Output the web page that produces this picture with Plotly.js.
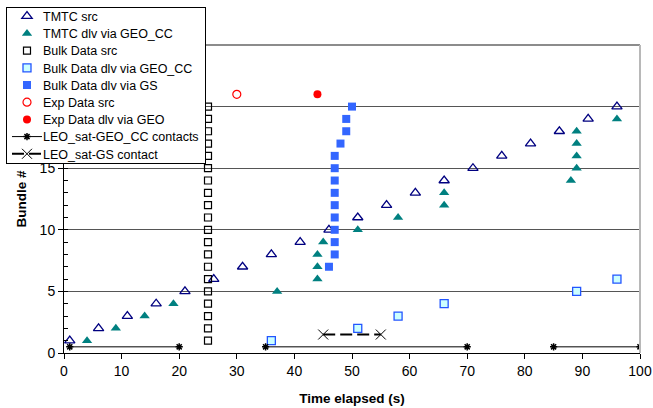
<!DOCTYPE html>
<html>
<head>
<meta charset="utf-8">
<script src="https://cdn.plot.ly/plotly-3.0.1.min.js"></script>
<style>html,body{margin:0;padding:0;background:#fff;}#chart{width:653px;height:408px;}</style>
</head>
<body>
<div id="chart"></div>
<script>
// ---- data ----
const tmtcSrcX = [1, 6, 11, 16, 21, 26, 31, 36, 41, 46, 51, 56, 61, 66, 71, 76, 81, 86, 91, 96];
const tmtcSrcY = [1, 2, 3, 4, 5, 6, 7, 8, 9, 10, 11, 12, 13, 14, 15, 16, 17, 18, 19, 20];

const tmtcDlvX = [4, 9, 14, 19, 37, 44, 44, 44, 45, 51, 58, 66, 66, 88, 89, 89, 89, 89, 96];
const tmtcDlvY = [1, 2, 3, 4, 5, 6, 7, 8, 9, 10, 11, 12, 13, 14, 15, 16, 17, 18, 19];

const bulkSrcX = [25, 25, 25, 25, 25, 25, 25, 25, 25, 25, 25, 25, 25, 25, 25, 25, 25, 25, 25, 25];
const bulkSrcY = [1, 2, 3, 4, 5, 6, 7, 8, 9, 10, 11, 12, 13, 14, 15, 16, 17, 18, 19, 20];

const bulkGeoX = [36, 51, 58, 66, 89, 96];
const bulkGeoY = [1, 2, 3, 4, 5, 6];

const bulkGsX = [46, 47, 47, 47, 47, 47, 47, 47, 47, 47, 48, 49, 49, 50];
const bulkGsY = [7, 8, 9, 10, 11, 12, 13, 14, 15, 16, 17, 18, 19, 20];

const expSrcX = [30];
const expSrcY = [21];
const expDlvX = [44];
const expDlvY = [21];

const geoContactX = [1, 20, null, 35, 70, null, 85, 100];
const geoContactY = [0.5, 0.5, null, 0.5, 0.5, null, 0.5, 0.5];

const gsContactX = [45, 55];
const gsContactY = [1.5, 1.5];

const seriesNames = ['TMTC src', 'TMTC dlv via GEO_CC', 'Bulk Data src', 'Bulk Data dlv via GEO_CC',
  'Bulk Data dlv via GS', 'Exp Data src', 'Exp Data dlv via GEO', 'LEO_sat-GEO_CC contacts', 'LEO_sat-GS contact'];

const xTickVals = [0, 10, 20, 30, 40, 50, 60, 70, 80, 90, 100];
const xTickText = ['0', '10', '20', '30', '40', '50', '60', '70', '80', '90', '100'];
const yTickVals = [0, 5, 10, 15, 20, 25];
// labels of 20 and 25 sit under the legend in the reference and are not visible
const yTickText = ['0', '5', '10', '15', '', ''];

// ---- traces ----
const traces = [
  {x: tmtcSrcX, y: tmtcSrcY, name: seriesNames[0], mode: 'markers', type: 'scatter',
   marker: {symbol: 'triangle-up-open', size: 9, color: '#000080', line: {width: 1.3, color: '#000080'}}},
  {x: tmtcDlvX, y: tmtcDlvY, name: seriesNames[1], mode: 'markers', type: 'scatter',
   marker: {symbol: 'triangle-up', size: 9, color: '#008080'}},
  {x: bulkSrcX, y: bulkSrcY, name: seriesNames[2], mode: 'markers', type: 'scatter',
   marker: {symbol: 'square-open', size: 7, color: '#000000', line: {width: 1.2, color: '#000000'}}},
  {x: bulkGeoX, y: bulkGeoY, name: seriesNames[3], mode: 'markers', type: 'scatter',
   marker: {symbol: 'square', size: 8, color: '#CCFFFF', line: {width: 1.3, color: '#2255FF'}}},
  {x: bulkGsX, y: bulkGsY, name: seriesNames[4], mode: 'markers', type: 'scatter',
   marker: {symbol: 'square', size: 8, color: '#3366FF'}},
  {x: expSrcX, y: expSrcY, name: seriesNames[5], mode: 'markers', type: 'scatter',
   marker: {symbol: 'circle-open', size: 8, color: '#FF0000', line: {width: 1.2, color: '#FF0000'}}},
  {x: expDlvX, y: expDlvY, name: seriesNames[6], mode: 'markers', type: 'scatter',
   marker: {symbol: 'circle', size: 8, color: '#FF0000'}},
  {x: geoContactX, y: geoContactY, name: seriesNames[7], mode: 'lines+markers', type: 'scatter',
   line: {color: '#000000', width: 1}, connectgaps: false,
   marker: {symbol: 'asterisk-open', size: 6, color: '#000000', line: {width: 1.5, color: '#000000'}}},
  {x: gsContactX, y: gsContactY, name: seriesNames[8], mode: 'lines+markers', type: 'scatter',
   line: {color: '#000000', width: 2, dash: '12px,5px'},
   marker: {symbol: 'x-thin-open', size: 10, color: '#000000', line: {width: 1, color: '#000000'}}}
];

const font = 'Liberation Sans, Arial, Helvetica, sans-serif';
const layout = {
  width: 653, height: 408,
  margin: {l: 64, r: 13, t: 45, b: 55, pad: 0, autoexpand: false},
  paper_bgcolor: '#ffffff', plot_bgcolor: '#ffffff',
  font: {family: font, color: '#000000', size: 14},
  showlegend: true,
  legend: {
    x: -0.1007, y: 1.1244, xanchor: 'left', yanchor: 'top',
    bgcolor: '#ffffff', bordercolor: '#000000', borderwidth: 1,
    font: {family: font, size: 12.5, color: '#000000'},
    itemwidth: 30,
    tracegroupgap: 0
  },
  xaxis: {
    range: [0, 100], tickvals: xTickVals, ticktext: xTickText, ticks: 'outside', ticklen: 5, tickcolor: '#000000',
    showline: true, linecolor: '#000000', linewidth: 1, showgrid: false, zeroline: false,
    tickfont: {size: 14, family: font},
    title: {text: '<b>Time elapsed (s)</b>', font: {size: 13.5, family: font}, standoff: 15}
  },
  yaxis: {
    range: [0, 25], tickvals: yTickVals, ticktext: yTickText, ticks: 'outside', ticklen: 5, tickcolor: '#000000',
    showline: true, linecolor: '#000000', linewidth: 1, showgrid: true, gridcolor: '#555555', gridwidth: 1,
    zeroline: false,
    minor: {ticks: 'inside', dtick: 1, ticklen: 4, tickcolor: '#000000', showgrid: false},
    tickfont: {size: 14, family: font},
    title: {text: '<b>Bundle #</b>', font: {size: 13.5, family: font}, standoff: 9}
  },
  shapes: [
    {type: 'line', xref: 'paper', yref: 'paper', x0: 0, x1: 1, y0: 1, y1: 1, line: {color: '#666666', width: 1.5}},
    {type: 'line', xref: 'paper', yref: 'paper', x0: 1, x1: 1, y0: 0, y1: 1, line: {color: '#b8b8b8', width: 2}}
  ]
};

Plotly.newPlot('chart', traces, layout, {displayModeBar: false, staticPlot: true}).then(function (gd) {
  // compact the legend (row pitch, text gap, box size) to match the reference
  const leg = gd.querySelector('g.legend');
  if (!leg) return;
  const items = leg.querySelectorAll('g.traces');
  const step = 17.2, first = 9.5;
  items.forEach(function (g, i) {
    const t = g.getAttribute('transform') || '';
    const m = /translate\(\s*([-\d.e]+)[ ,]+([-\d.e]+)\s*\)/.exec(t);
    const xx = m ? m[1] : 1;
    g.setAttribute('transform', 'translate(' + xx + ',' + (first + step * i) + ')');
    const txt = g.querySelector('text.legendtext');
    if (txt) txt.setAttribute('transform', 'translate(-4,0)');
  });
  const h = first * 2 + step * (items.length - 1);
  const bg = leg.querySelector('rect.bg');
  if (bg) { bg.setAttribute('height', h); bg.setAttribute('width', 199); }
});
</script>
</body>
</html>
